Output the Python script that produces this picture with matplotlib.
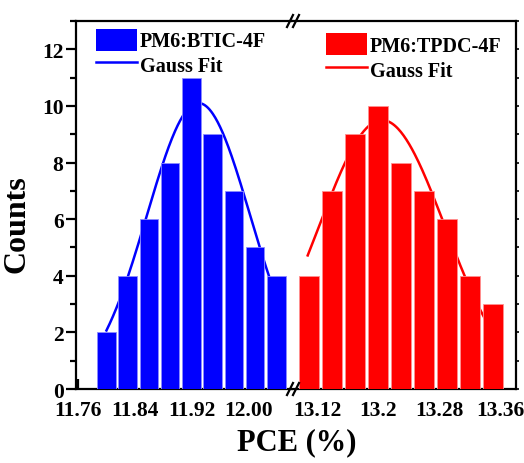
import matplotlib
matplotlib.use('Agg')
import matplotlib.pyplot as plt
import numpy as np
from matplotlib.lines import Line2D
from matplotlib.patches import Patch
from matplotlib.ticker import MultipleLocator

plt.rcParams['font.family'] = ['Liberation Serif', 'DejaVu Serif']
plt.rcParams['font.weight'] = 'bold'

# histogram data
btic_pce = [11.80, 11.83, 11.86, 11.89, 11.92, 11.95, 11.98, 12.01, 12.04]
btic_counts = [2, 4, 6, 8, 11, 9, 7, 5, 4]
tpdc_pce = [13.11, 13.14, 13.17, 13.20, 13.23, 13.26, 13.29, 13.32, 13.35]
tpdc_counts = [4, 7, 9, 10, 8, 7, 6, 4, 3]

# gauss fit parameters (centre, sigma, amplitude) and drawn range
btic_fit = (11.930, 0.073, 10.1)
btic_fit_range = (11.80, 12.03)
tpdc_fit = (13.205, 0.082, 9.5)
tpdc_fit_range = (13.108, 13.35)

left_ticks = [11.76, 11.84, 11.92, 12.00]
left_ticklabels = ['11.76', '11.84', '11.92', '12.00']
right_ticks = [13.12, 13.20, 13.28, 13.36]
right_ticklabels = ['13.12', '13.2', '13.28', '13.36']

fig = plt.figure(figsize=(5.24, 4.64), dpi=100)
W, H = 524, 464
x0, xb, x1 = 76, 292, 516
y_bot, y_top = 390, 22
axl = fig.add_axes([x0 / W, 1 - y_bot / H, (xb - x0) / W, (y_bot - y_top) / H])
axr = fig.add_axes([xb / W, 1 - y_bot / H, (x1 - xb) / W, (y_bot - y_top) / H])


def gauss(x, p):
    xc, w, a = p
    return a * np.exp(-(x - xc) ** 2 / (2 * w ** 2))


for ax, pce, counts, fit, rng, col, edge in [
        (axl, btic_pce, btic_counts, btic_fit, btic_fit_range, '#0000ff', '#8c8cff'),
        (axr, tpdc_pce, tpdc_counts, tpdc_fit, tpdc_fit_range, '#ff0000', '#ff9090')]:
    ax.bar(pce, counts, width=0.026, color=col, edgecolor=edge, linewidth=0.6, zorder=3)
    xs = np.linspace(rng[0], rng[1], 200)
    ax.plot(xs, gauss(xs, fit), color=col, lw=1.8, zorder=2)
    ax.set_ylim(0, 13)
    for s in ax.spines.values():
        s.set_linewidth(1.6)
    ax.tick_params(axis='x', which='major', direction='in', length=7, width=1.6,
                   labelsize=15.5, pad=8)
    ax.tick_params(axis='x', which='minor', direction='in', length=4, width=1.6)

axl.set_xlim(11.757, 12.062)
axr.set_xlim(13.0875, 13.38)
axl.set_xticks(left_ticks)
axl.set_xticklabels(left_ticklabels)
axr.set_xticks(right_ticks)
axr.set_xticklabels(right_ticklabels)
axl.xaxis.set_minor_locator(MultipleLocator(0.04))
axr.xaxis.set_minor_locator(MultipleLocator(0.04))

axl.spines['right'].set_visible(False)
axr.spines['left'].set_visible(False)
axl.yaxis.set_major_locator(MultipleLocator(2))
axl.yaxis.set_minor_locator(MultipleLocator(1))
axl.tick_params(axis='y', which='major', direction='out', length=7, width=1.6,
                labelsize=15.5, pad=2)
axl.tick_params(axis='y', which='minor', direction='out', length=4, width=1.6)
axr.yaxis.set_major_locator(MultipleLocator(1))
axr.yaxis.tick_right()
axr.tick_params(axis='y', which='major', direction='out', length=2, width=1.2,
                labelright=False)

axl.set_ylabel('Counts', fontsize=23, fontweight='bold')
axl.yaxis.set_label_coords(-0.205, 0.45)
fig.text(297 / W, 1 - 443 / H, 'PCE (%)', fontsize=22, fontweight='bold',
         ha='center', va='center')

leg_font = {'size': 14.5, 'weight': 'bold'}
axl.legend(handles=[Patch(facecolor='#0000ff', edgecolor='none', label='PM6:BTIC-4F'),
                    Line2D([], [], color='#0000ff', lw=1.8, label='Gauss Fit')],
           loc='upper left', bbox_to_anchor=(0.075, 0.99), frameon=False, prop=leg_font,
           handlelength=2.0, handleheight=1.3, handletextpad=0.15, labelspacing=0.1,
           borderpad=0.2, borderaxespad=0)
axr.legend(handles=[Patch(facecolor='#ff0000', edgecolor='none', label='PM6:TPDC-4F'),
                    Line2D([], [], color='#ff0000', lw=1.8, label='Gauss Fit')],
           loc='upper left', bbox_to_anchor=(0.135, 0.978), frameon=False, prop=leg_font,
           handlelength=2.0, handleheight=1.3, handletextpad=0.15, labelspacing=0.1,
           borderpad=0.2, borderaxespad=0)

# break marks on the x axis
for yy in (y_top, y_bot):
    for dx in (-2, 4):
        fig.add_artist(Line2D([(xb + dx - 3) / W, (xb + dx + 3) / W],
                              [1 - (yy + 6) / H, 1 - (yy - 6) / H],
                              color='black', lw=1.6, transform=fig.transFigure))

fig.savefig('out.png', dpi=100)
